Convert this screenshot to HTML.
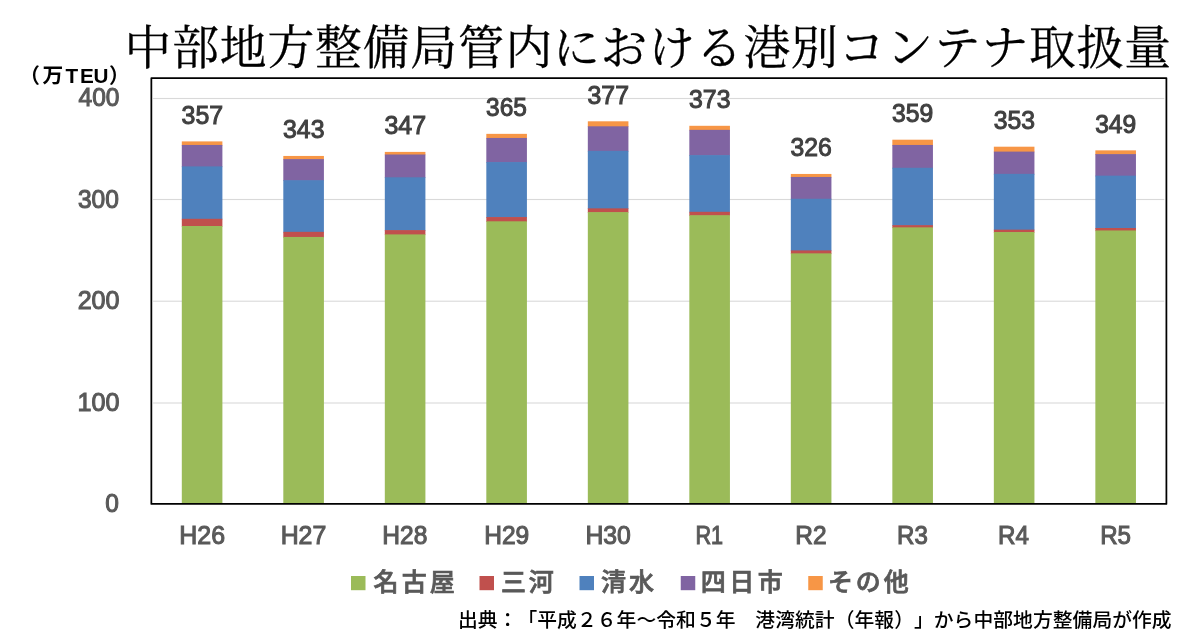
<!DOCTYPE html>
<html lang="ja">
<head>
<meta charset="utf-8">
<title>中部地方整備局管内における港別コンテナ取扱量</title>
<style>
html,body{margin:0;padding:0;background:#fff;}
body{width:1200px;height:642px;overflow:hidden;}
svg{display:block;}
text{text-spacing-trim:space-all;}
.title{font-family:"Liberation Serif","Noto Serif CJK JP","Noto Serif CJK SC",serif;font-size:46.8px;fill:#000;stroke:#000;stroke-width:0.3px;}
.ax{font-family:"Liberation Sans","Noto Sans CJK JP",sans-serif;font-weight:normal;fill:#595959;stroke:#595959;stroke-width:1.1px;}
.dl{font-family:"Liberation Sans","Noto Sans CJK JP",sans-serif;font-weight:normal;fill:#404040;stroke:#404040;stroke-width:1.05px;}
.unit{font-family:"Liberation Sans","Noto Sans CJK JP",sans-serif;font-weight:bold;fill:#000;}
.lg{font-family:"Liberation Sans","Noto Sans CJK JP",sans-serif;font-weight:500;fill:#595959;stroke:#595959;stroke-width:0.75px;}
.src{font-family:"Liberation Sans","Noto Sans CJK JP",sans-serif;font-weight:500;fill:#000;}
</style>
</head>
<body>
<svg width="1200" height="642" viewBox="0 0 1200 642">
<rect x="0" y="0" width="1200" height="642" fill="#ffffff"/>
<text class="title" x="124.6" y="64" textLength="1046.4" lengthAdjust="spacing">中部地方整備局管内における港別コンテナ取扱量</text>
<rect x="153.1" y="402.45" width="1011.2" height="1.1" fill="#D9D9D9"/>
<rect x="153.1" y="300.65" width="1011.2" height="1.1" fill="#D9D9D9"/>
<rect x="153.1" y="198.95" width="1011.2" height="1.1" fill="#D9D9D9"/>
<rect x="153.1" y="97.95" width="1011.2" height="1.1" fill="#D9D9D9"/>
<rect x="181.80" y="141.40" width="40.6" height="4.25" fill="#F79646"/>
<rect x="181.80" y="144.95" width="40.6" height="22.15" fill="#8064A2"/>
<rect x="181.80" y="166.40" width="40.6" height="53.10" fill="#4F81BD"/>
<rect x="181.80" y="218.80" width="40.6" height="7.90" fill="#C0504D"/>
<rect x="181.80" y="226.00" width="40.6" height="277.90" fill="#9BBB59"/>
<rect x="283.31" y="155.95" width="40.6" height="3.85" fill="#F79646"/>
<rect x="283.31" y="159.10" width="40.6" height="21.80" fill="#8064A2"/>
<rect x="283.31" y="180.20" width="40.6" height="52.35" fill="#4F81BD"/>
<rect x="283.31" y="231.85" width="40.6" height="5.80" fill="#C0504D"/>
<rect x="283.31" y="236.95" width="40.6" height="266.95" fill="#9BBB59"/>
<rect x="384.81" y="151.90" width="40.6" height="3.30" fill="#F79646"/>
<rect x="384.81" y="154.50" width="40.6" height="23.50" fill="#8064A2"/>
<rect x="384.81" y="177.30" width="40.6" height="53.50" fill="#4F81BD"/>
<rect x="384.81" y="230.10" width="40.6" height="5.00" fill="#C0504D"/>
<rect x="384.81" y="234.40" width="40.6" height="269.50" fill="#9BBB59"/>
<rect x="486.32" y="133.85" width="40.6" height="4.80" fill="#F79646"/>
<rect x="486.32" y="137.95" width="40.6" height="24.80" fill="#8064A2"/>
<rect x="486.32" y="162.05" width="40.6" height="55.70" fill="#4F81BD"/>
<rect x="486.32" y="217.05" width="40.6" height="4.95" fill="#C0504D"/>
<rect x="486.32" y="221.30" width="40.6" height="282.60" fill="#9BBB59"/>
<rect x="587.82" y="121.30" width="40.6" height="5.70" fill="#F79646"/>
<rect x="587.82" y="126.30" width="40.6" height="25.25" fill="#8064A2"/>
<rect x="587.82" y="150.85" width="40.6" height="58.20" fill="#4F81BD"/>
<rect x="587.82" y="208.35" width="40.6" height="4.45" fill="#C0504D"/>
<rect x="587.82" y="212.10" width="40.6" height="291.80" fill="#9BBB59"/>
<rect x="689.33" y="125.80" width="40.6" height="4.75" fill="#F79646"/>
<rect x="689.33" y="129.85" width="40.6" height="25.95" fill="#8064A2"/>
<rect x="689.33" y="155.10" width="40.6" height="57.40" fill="#4F81BD"/>
<rect x="689.33" y="211.80" width="40.6" height="4.10" fill="#C0504D"/>
<rect x="689.33" y="215.20" width="40.6" height="288.70" fill="#9BBB59"/>
<rect x="790.83" y="173.95" width="40.6" height="3.70" fill="#F79646"/>
<rect x="790.83" y="176.95" width="40.6" height="22.50" fill="#8064A2"/>
<rect x="790.83" y="198.75" width="40.6" height="52.35" fill="#4F81BD"/>
<rect x="790.83" y="250.40" width="40.6" height="3.65" fill="#C0504D"/>
<rect x="790.83" y="253.35" width="40.6" height="250.55" fill="#9BBB59"/>
<rect x="892.34" y="139.70" width="40.6" height="5.95" fill="#F79646"/>
<rect x="892.34" y="144.95" width="40.6" height="23.55" fill="#8064A2"/>
<rect x="892.34" y="167.80" width="40.6" height="58.05" fill="#4F81BD"/>
<rect x="892.34" y="225.15" width="40.6" height="2.90" fill="#C0504D"/>
<rect x="892.34" y="227.35" width="40.6" height="276.55" fill="#9BBB59"/>
<rect x="993.84" y="146.70" width="40.6" height="5.60" fill="#F79646"/>
<rect x="993.84" y="151.60" width="40.6" height="22.95" fill="#8064A2"/>
<rect x="993.84" y="173.85" width="40.6" height="56.50" fill="#4F81BD"/>
<rect x="993.84" y="229.65" width="40.6" height="3.10" fill="#C0504D"/>
<rect x="993.84" y="232.05" width="40.6" height="271.85" fill="#9BBB59"/>
<rect x="1095.35" y="150.35" width="40.6" height="4.45" fill="#F79646"/>
<rect x="1095.35" y="154.10" width="40.6" height="22.25" fill="#8064A2"/>
<rect x="1095.35" y="175.65" width="40.6" height="53.05" fill="#4F81BD"/>
<rect x="1095.35" y="228.00" width="40.6" height="3.15" fill="#C0504D"/>
<rect x="1095.35" y="230.45" width="40.6" height="273.45" fill="#9BBB59"/>
<rect x="151.35" y="78" width="1015.05" height="425.9" fill="none" stroke="#000" stroke-width="1.75" stroke-linejoin="round"/>
<text class="ax" font-size="26" x="179.31" y="544.30" textLength="45.73" lengthAdjust="spacingAndGlyphs">H26</text>
<text class="dl" font-size="25.8" x="181.57" y="123.70" textLength="41.55" lengthAdjust="spacingAndGlyphs">357</text>
<text class="ax" font-size="26" x="280.65" y="544.30" textLength="45.63" lengthAdjust="spacingAndGlyphs">H27</text>
<text class="dl" font-size="25.8" x="283.03" y="138.25" textLength="41.48" lengthAdjust="spacingAndGlyphs">343</text>
<text class="ax" font-size="26" x="382.25" y="544.30" textLength="45.11" lengthAdjust="spacingAndGlyphs">H28</text>
<text class="dl" font-size="25.8" x="384.42" y="134.20" textLength="41.72" lengthAdjust="spacingAndGlyphs">347</text>
<text class="ax" font-size="26" x="484.21" y="544.30" textLength="44.98" lengthAdjust="spacingAndGlyphs">H29</text>
<text class="dl" font-size="25.8" x="486.06" y="116.15" textLength="40.88" lengthAdjust="spacingAndGlyphs">365</text>
<text class="ax" font-size="26" x="585.40" y="544.30" textLength="45.45" lengthAdjust="spacingAndGlyphs">H30</text>
<text class="dl" font-size="25.8" x="587.57" y="103.60" textLength="41.43" lengthAdjust="spacingAndGlyphs">377</text>
<text class="ax" font-size="26" x="695.53" y="544.30" textLength="27.62" lengthAdjust="spacingAndGlyphs">R1</text>
<text class="dl" font-size="25.8" x="689.03" y="108.10" textLength="41.44" lengthAdjust="spacingAndGlyphs">373</text>
<text class="ax" font-size="26" x="795.27" y="544.30" textLength="31.31" lengthAdjust="spacingAndGlyphs">R2</text>
<text class="dl" font-size="25.8" x="790.58" y="156.25" textLength="41.29" lengthAdjust="spacingAndGlyphs">326</text>
<text class="ax" font-size="26" x="897.12" y="544.30" textLength="30.78" lengthAdjust="spacingAndGlyphs">R3</text>
<text class="dl" font-size="25.8" x="891.94" y="122.00" textLength="41.25" lengthAdjust="spacingAndGlyphs">359</text>
<text class="ax" font-size="26" x="998.11" y="544.30" textLength="30.87" lengthAdjust="spacingAndGlyphs">R4</text>
<text class="dl" font-size="25.8" x="993.63" y="129.00" textLength="41.34" lengthAdjust="spacingAndGlyphs">353</text>
<text class="ax" font-size="26" x="1100.20" y="544.30" textLength="30.81" lengthAdjust="spacingAndGlyphs">R5</text>
<text class="dl" font-size="25.8" x="1095.13" y="132.65" textLength="41.06" lengthAdjust="spacingAndGlyphs">349</text>
<text class="ax" font-size="26" x="105.33" y="512.40" textLength="13.63" lengthAdjust="spacingAndGlyphs">0</text>
<text class="ax" font-size="26" x="77.42" y="410.90" textLength="41.98" lengthAdjust="spacingAndGlyphs">100</text>
<text class="ax" font-size="26" x="77.64" y="309.40" textLength="41.90" lengthAdjust="spacingAndGlyphs">200</text>
<text class="ax" font-size="26" x="77.92" y="207.90" textLength="41.00" lengthAdjust="spacingAndGlyphs">300</text>
<text class="ax" font-size="26" x="78.54" y="106.40" textLength="40.92" lengthAdjust="spacingAndGlyphs">400</text>
<text class="lg" font-size="25.0" x="373.53" y="591.40" textLength="81.33" lengthAdjust="spacing">名古屋</text>
<text class="lg" font-size="25.0" x="501.00" y="591.40" textLength="52.86" lengthAdjust="spacing">三河</text>
<text class="lg" font-size="25.0" x="600.93" y="591.40" textLength="52.97" lengthAdjust="spacing">清水</text>
<text class="lg" font-size="25.0" x="700.70" y="591.40" textLength="81.98" lengthAdjust="spacing">四日市</text>
<text class="lg" font-size="25.0" x="828.00" y="591.40" textLength="80.76" lengthAdjust="spacing">その他</text>
<text class="src" font-size="19.8" x="458.00" y="627.00" textLength="713.67" lengthAdjust="spacing">出典：「平成２６年～令和５年　港湾統計（年報）」から中部地方整備局が作成</text>
<text class="unit" font-size="20.7" y="83.2" x="19.3 42.5 65.4 80.0 93.5 109.1">（万TEU）</text>
<rect x="351" y="576" width="14.5" height="14.2" fill="#9BBB59"/>
<rect x="479.5" y="576" width="14.5" height="14.2" fill="#C0504D"/>
<rect x="579.5" y="576" width="14.5" height="14.2" fill="#4F81BD"/>
<rect x="680.75" y="576" width="14.5" height="14.2" fill="#8064A2"/>
<rect x="808.25" y="576" width="14.5" height="14.2" fill="#F79646"/>
</svg>
</body>
</html>
